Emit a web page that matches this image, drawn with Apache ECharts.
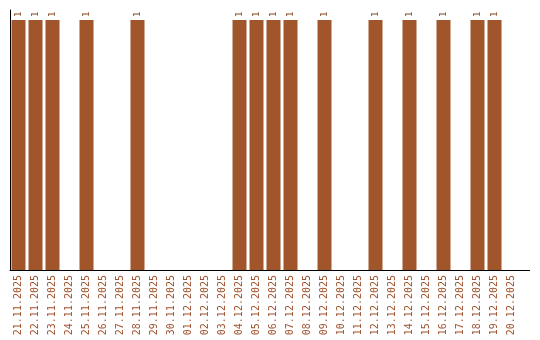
<!DOCTYPE html>
<html>
<head>
<meta charset="utf-8">
<script src="https://cdn.jsdelivr.net/npm/echarts@6/dist/echarts.min.js"></script>
<style>html,body{margin:0;padding:0;background:#fff}#c{width:540px;height:340px}</style>
</head>
<body>
<div id="c"></div>
<script>
var categories = ['21.11.2025','22.11.2025','23.11.2025','24.11.2025','25.11.2025','26.11.2025','27.11.2025','28.11.2025','29.11.2025','30.11.2025','01.12.2025','02.12.2025','03.12.2025','04.12.2025','05.12.2025','06.12.2025','07.12.2025','08.12.2025','09.12.2025','10.12.2025','11.12.2025','12.12.2025','13.12.2025','14.12.2025','15.12.2025','16.12.2025','17.12.2025','18.12.2025','19.12.2025','20.12.2025'];
var values = [1,1,1,0,1,0,0,1,0,0,0,0,0,1,1,1,1,0,1,0,0,1,0,1,0,1,0,1,1,0];

var chart = echarts.init(document.getElementById('c'), null, {renderer:'canvas'});
chart.setOption({
  animation:false,
  grid:{left:10, top:10, width:510, height:260},
  xAxis:{
    type:'category', data:categories,
    axisLine:{show:true, lineStyle:{color:'#000', width:1}},
    axisTick:{show:false},
    axisLabel:{rotate:90, interval:0, color:'#a0522d', fontFamily:'DejaVu Sans Mono', fontSize:10, margin:5}
  },
  yAxis:{
    type:'value', min:0, max:1.04,
    axisLine:{show:true, lineStyle:{color:'#000', width:1}},
    axisTick:{show:false}, axisLabel:{show:false}, splitLine:{show:false}
  },
  graphic:[{type:'line', shape:{x1:520,y1:270.5,x2:530,y2:270.5}, style:{stroke:'#000', lineWidth:1}}],
  series:[{
    type:'bar', data:values, barWidth:14,
    itemStyle:{color:'#a0562a'},
    label:{show:true, position:'top', rotate:90, distance:3, color:'#8b4a22', fontFamily:'DejaVu Sans Mono', fontSize:9,
      align:'left', verticalAlign:'middle',
      formatter:function(p){return p.value ? String(p.value) : '';}}
  }]
});
</script>
</body>
</html>
